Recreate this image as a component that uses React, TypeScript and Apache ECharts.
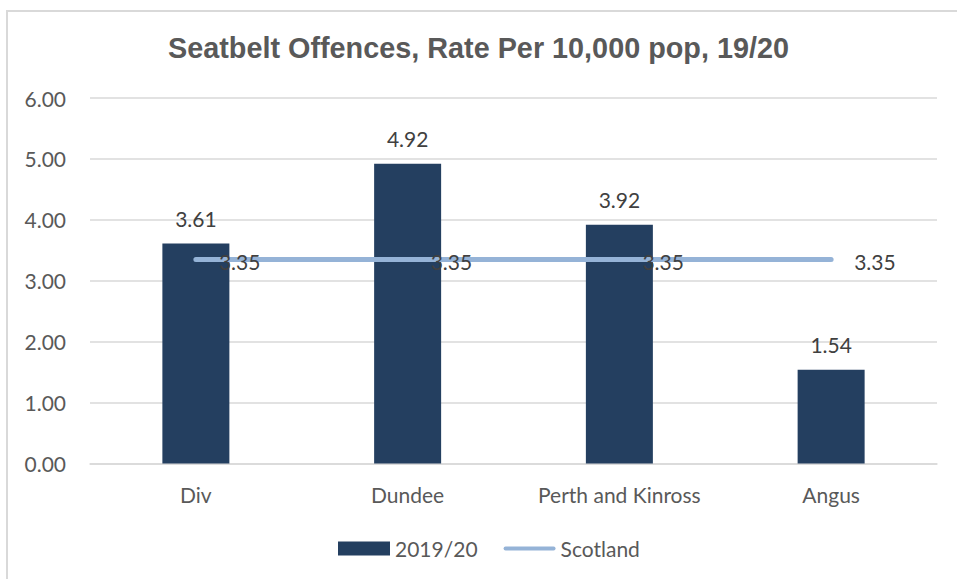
import React, { useEffect, useRef } from "react";
import * as echarts from "echarts";

const categories = ["Div", "Dundee", "Perth and Kinross", "Angus"];
const rate2019 = [3.61, 4.92, 3.92, 1.54];
const scotland = [3.35, 3.35, 3.35, 3.35];
const yTicks = { min: 0, max: 6, interval: 1 };
const titleText = "Seatbelt Offences, Rate Per 10,000 pop, 19/20";

export default function App() {
  const ref = useRef<HTMLDivElement>(null);
  useEffect(() => {
    if (!ref.current) return;
    const chart = echarts.init(ref.current, null, { renderer: "svg" });
    const font = "Lato";
    const fs = 21;
    chart.setOption({
      animation: false,
      backgroundColor: "#ffffff",
      graphic: [
        {
          type: "rect",
          shape: { x: 7, y: 11, width: 1000, height: 1000 },
          style: { fill: "none", stroke: "#d9d9d9", lineWidth: 2 },
          silent: true,
          z: -1,
        },
      ],
      title: {
        text: titleText,
        left: "center",
        top: 33,
        padding: 0,
        textStyle: {
          fontFamily: "Liberation Sans",
          fontWeight: "bold",
          fontSize: 28.8,
          color: "#595959",
        },
      },
      legend: {
        top: 538,
        left: 338,
        padding: 0,
        itemWidth: 52,
        itemHeight: 14,
        itemGap: 26,
        textStyle: { fontFamily: font, fontSize: fs, color: "#595959" },
        data: [
          { name: "2019/20", icon: "rect" },
          { name: "Scotland", icon: "path://M2,0 L50,0 A2,2 0 0 1 50,4 L2,4 A2,2 0 0 1 2,0 Z" },
        ],
      },
      grid: { left: 90, right: 20, top: 98, bottom: 115.5 },
      xAxis: {
        type: "category",
        data: categories,
        axisTick: { show: false },
        axisLine: { lineStyle: { color: "#d9d9d9", width: 1.5 } },
        axisLabel: { fontFamily: font, fontSize: fs, color: "#595959", margin: 20 },
      },
      yAxis: {
        type: "value",
        min: yTicks.min,
        max: yTicks.max,
        interval: yTicks.interval,
        axisLine: { show: false },
        axisTick: { show: false },
        splitLine: { lineStyle: { color: "#d9d9d9", width: 1.5 } },
        axisLabel: {
          fontFamily: font,
          fontSize: fs,
          color: "#595959",
          margin: 24,
          formatter: (v: number) => v.toFixed(2),
        },
      },
      series: [
        {
          name: "2019/20",
          type: "bar",
          data: rate2019,
          barWidth: 67,
          itemStyle: { color: "#243f60" },
          label: {
            show: true,
            position: "top",
            distance: 15,
            fontFamily: font,
            fontSize: fs,
            color: "#404040",
            formatter: (p: any) => Number(p.value).toFixed(2),
          },
          z: 2,
        },
        {
          name: "Scotland",
          type: "line",
          data: scotland,
          symbol: "circle",
          symbolSize: 2,
          color: "#95b3d7",
          itemStyle: { color: "#95b3d7" },
          lineStyle: { color: "#95b3d7", width: 5, cap: "round" },
          label: {
            show: true,
            position: "right",
            distance: 22,
            offset: [0, 2],
            fontFamily: font,
            fontSize: fs,
            color: "#404040",
            formatter: (p: any) => Number(p.value).toFixed(2),
          },
          z: 3,
        },
      ],
    });
    return () => chart.dispose();
  }, []);
  return (
    <div
      ref={ref}
      style={{ position: "fixed", left: 0, top: 0, width: 957, height: 579 }}
    />
  );
}
